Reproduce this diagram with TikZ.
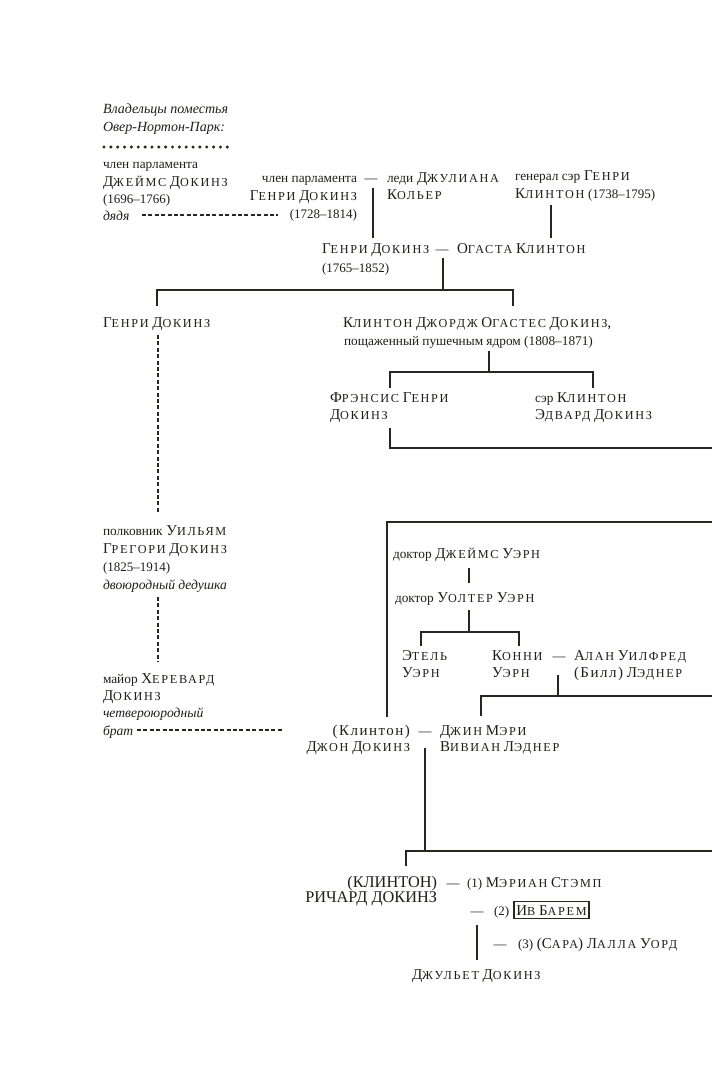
\documentclass[tikz,border=0pt]{standalone}
\usepackage{fontspec}
\setmainfont{Liberation Serif}
\newfontfamily\scfont[LetterSpace=14]{Liberation Serif}
\newfontfamily\lsfont[LetterSpace=10]{Liberation Serif}
\newcommand\sk[1]{{\scfont\fontsize{12.2}{13}\selectfont #1}}
\newcommand\ls[1]{{\lsfont #1}}
\newcommand\dsz{\fontsize{13.3}{15}\selectfont}
\newcommand\ysz{\fontsize{13}{15}\selectfont}
\definecolor{ink}{RGB}{33,29,26}
\definecolor{lin}{RGB}{43,37,32}
\begin{document}
\begin{tikzpicture}[x=1pt,y=-1pt,
  every node/.style={inner sep=0pt,outer sep=0pt,text=ink},
  nm/.style={anchor=base west,font=\fontsize{15}{17}\selectfont},
  nme/.style={anchor=base east,font=\fontsize{15}{17}\selectfont},
  capsn/.style={anchor=base east,font=\fontsize{16.3}{18}\selectfont},
  ds/.style={anchor=base west,font=\dsz},
  dse/.style={anchor=base east,font=\dsz},
  yr/.style={anchor=base west,font=\ysz},
  yre/.style={anchor=base east,font=\ysz},
  it/.style={anchor=base west,font=\fontsize{13.6}{15}\selectfont\itshape},
  em/.style={anchor=base,font=\fontsize{13}{14}\selectfont},
  ln/.style={draw=lin,line width=1.3pt},
  framed/.style={draw=lin,line width=1.4pt,inner xsep=2.3pt,inner ysep=3.6pt},
  dsh/.style={draw=lin,line width=1.2pt,dash pattern=on 4pt off 2.4pt},
  dts/.style={draw=lin,line width=3.4pt,line cap=round,dash pattern=on 0pt off 6.85pt}]
\useasboundingbox[fill=white] (0,0) rectangle (712,1080);

% header
\node[it,font=\fontsize{14}{15}\selectfont\itshape] (h1) at (103,113) {Владельцы поместья};
\node[it,font=\fontsize{14}{15}\selectfont\itshape] (h2) at (103,131) {Овер-Нортон-Парк:};
\coordinate (d1) at (104,147); \coordinate (d2) at (231,147);
\draw[dts] (d1) -- (d2);

% James Dawkins
\node[ds] (j1) at (103,168) {член парламента};
\node[nm] (j2) at (103,186) {Д\sk{ЖЕЙМС} Д\sk{ОКИНЗ}};
\node[yr] (j3) at (103,203) {(1696–1766)};
\node[it] (j4) at (103,220) {дядя};

% Henry Dawkins 1728
\node[dse] (hd1) at (357,182) {член парламента};
\node[em] (dash1) at (371,182) {—};
\node[nme] (hd2) at (357,200) {Г\sk{ЕНРИ} Д\sk{ОКИНЗ}};
\node[yre] (hd3) at (357,218) {(1728–1814)};
\node[nm] (ju1) at (387,182) {{\dsz леди} Д\sk{ЖУЛИАНА}};
\node[nm] (ju2) at (387,199) {К\sk{ОЛЬЕР}};
\coordinate (u1) at (142,215); \coordinate (u2) at (278,215);
\draw[dsh] (u1) -- (u2);

% General Clinton
\node[nm] (gc1) at (515,180) {{\dsz генерал сэр} Г\sk{ЕНРИ}};
\node[nm] (gc2) at (515,198) {К\sk{ЛИНТОН} {\ysz(1738–1795)}};

% Henry Dawkins 1765
\node[nm] (h65) at (322,253) {Г\sk{ЕНРИ} Д\sk{ОКИНЗ}};
\node[em] (dash2) at (442,253) {—};
\node[nm] (og) at (457,253) {О\sk{ГАСТА} К\sk{ЛИНТОН}};
\node[yr] (h65y) at (322,272) {(1765–1852)};

\coordinate (a1) at (373,188); \coordinate (a2) at (373,238);
\draw[ln] (a1) -- (a2);
\coordinate (b1) at (551,205); \coordinate (b2) at (551,238);
\draw[ln] (b1) -- (b2);
\coordinate (c1) at (443,258); \coordinate (c2) at (443,290);
\coordinate (cl) at (157,290); \coordinate (cr) at (513,290);
\draw[ln] (c1) -- (c2);
\draw[ln] (157,306) -- (cl) -- (cr) -- (513,306);

% next generation
\node[nm] (hd4) at (103,327) {Г\sk{ЕНРИ} Д\sk{ОКИНЗ}};
\node[nm] (cg1) at (343,327) {К\sk{ЛИНТОН} Д\sk{ЖОРДЖ} О\sk{ГАСТЕС} Д\sk{ОКИНЗ},};
\node[ds] (cg2) at (344,345) {пощаженный пушечным ядром (1808–1871)};
\coordinate (e1) at (489,351); \coordinate (e2) at (489,372);
\draw[ln] (e1) -- (e2);
\draw[ln] (390,388) -- (390,372) -- (593,372) -- (593,388);
\node[nm] (fh1) at (330,402) {Ф\sk{РЭНСИС} Г\sk{ЕНРИ}};
\node[nm] (fh2) at (330,419) {Д\sk{ОКИНЗ}};
\node[nm] (ce1) at (535,402) {{\dsz сэр} К\sk{ЛИНТОН}};
\node[nm] (ce2) at (535,419) {Э\sk{ДВАРД} Д\sk{ОКИНЗ}};
\coordinate (f1) at (390,428); \coordinate (f2) at (712,448);
\draw[ln] (f1) |- (f2);

% left dashed line of descent
\coordinate (g1) at (158,335); \coordinate (g2) at (158,512);
\draw[dsh] (g1) -- (g2);
\node[nm] (wg1) at (103,535) {{\dsz полковник} У\sk{ИЛЬЯМ}};
\node[nm] (wg2) at (103,553) {Г\sk{РЕГОРИ} Д\sk{ОКИНЗ}};
\node[yr] (wg3) at (103,571) {(1825–1914)};
\node[it] (wg4) at (103,589) {двоюродный дедушка};
\coordinate (g3) at (158,597); \coordinate (g4) at (158,662);
\draw[dsh] (g3) -- (g4);
\node[nm] (mh1) at (103,683) {{\dsz майор} Х\sk{ЕРЕВАРД}};
\node[nm] (mh2) at (103,700) {Д\sk{ОКИНЗ}};
\node[it] (mh3) at (103,717) {четвероюродный};
\node[it] (mh4) at (103,735) {брат};
\coordinate (k1) at (137,730); \coordinate (k2) at (284,730);
\draw[dsh] (k1) -- (k2);

% box line
\coordinate (m1) at (712,522); \coordinate (m2) at (387,717);
\draw[ln] (m1) -| (m2);

% Wern family
\node[nm] (wu1) at (393,558) {{\dsz доктор} Д\sk{ЖЕЙМС} У\sk{ЭРН}};
\coordinate (n1) at (469,568); \coordinate (n2) at (469,583);
\draw[ln] (n1) -- (n2);
\node[nm] (wu2) at (395,602) {{\dsz доктор} У\sk{ОЛТЕР} У\sk{ЭРН}};
\coordinate (p1) at (469,610); \coordinate (p2) at (469,632);
\draw[ln] (p1) -- (p2);
\draw[ln] (421,646) -- (421,632) -- (519,632) -- (519,646);
\node[nm] (et1) at (402,660) {Э\sk{ТЕЛЬ}};
\node[nm] (et2) at (402,677) {У\sk{ЭРН}};
\node[nm] (ko1) at (492,660) {К\sk{ОННИ}};
\node[nm] (ko2) at (492,677) {У\sk{ЭРН}};
\node[em] (dash3) at (559,660) {—};
\node[nm] (al1) at (574,660) {А\sk{ЛАН} У\sk{ИЛФРЕД}};
\node[nm] (al2) at (574,677) {\ls{(Билл)} Л\sk{ЭДНЕР}};
\coordinate (q1) at (558,675); \coordinate (q2) at (558,696);
\draw[ln] (q1) -- (q2);
\coordinate (q3) at (712,696); \coordinate (q4) at (481,716);
\draw[ln] (q3) -| (q4);

% John Dawkins and Jean
\node[nme] (cj1) at (410,735) {\ls{(Клинтон)}};
\node[em] (dash4) at (425,735) {—};
\node[nme] (cj2) at (410,751) {Д\sk{ЖОН} Д\sk{ОКИНЗ}};
\node[nm] (jm1) at (440,735) {Д\sk{ЖИН} М\sk{ЭРИ}};
\node[nm] (jm2) at (440,751) {В\sk{ИВИАН} Л\sk{ЭДНЕР}};
\coordinate (r1) at (425,748); \coordinate (r2) at (425,851);
\draw[ln] (r1) -- (r2);
\coordinate (r3) at (712,851); \coordinate (r4) at (406,866);
\draw[ln] (r3) -| (r4);

% Richard Dawkins
\node[capsn] (rd1) at (437,887) {(КЛИНТОН)};
\node[em] (dash5) at (453,887) {—};
\node[nm] (ms) at (467,887) {{\ysz(1)} М\sk{ЭРИАН} С\sk{ТЭМП}};
\node[capsn] (rd2) at (437,902) {РИЧАРД ДОКИНЗ};
\node[em] (dash6) at (477,915) {—};
\node[yr] (n2l) at (494,915) {(2)};
\node[nm,framed] (ib) at (514,915) {И\sk{В} Б\sk{АРЕМ}};
\coordinate (s1) at (477,925); \coordinate (s2) at (477,960);
\draw[ln] (s1) -- (s2);
\node[em] (dash7) at (500,948) {—};
\node[nm] (n3) at (518,948) {{\ysz(3)} \ls{(}С\sk{АРА}) Л\sk{АЛЛА} У\sk{ОРД}};
\node[nm] (jd) at (412,979) {Д\sk{ЖУЛЬЕТ} Д\sk{ОКИНЗ}};
\end{tikzpicture}
\end{document}
